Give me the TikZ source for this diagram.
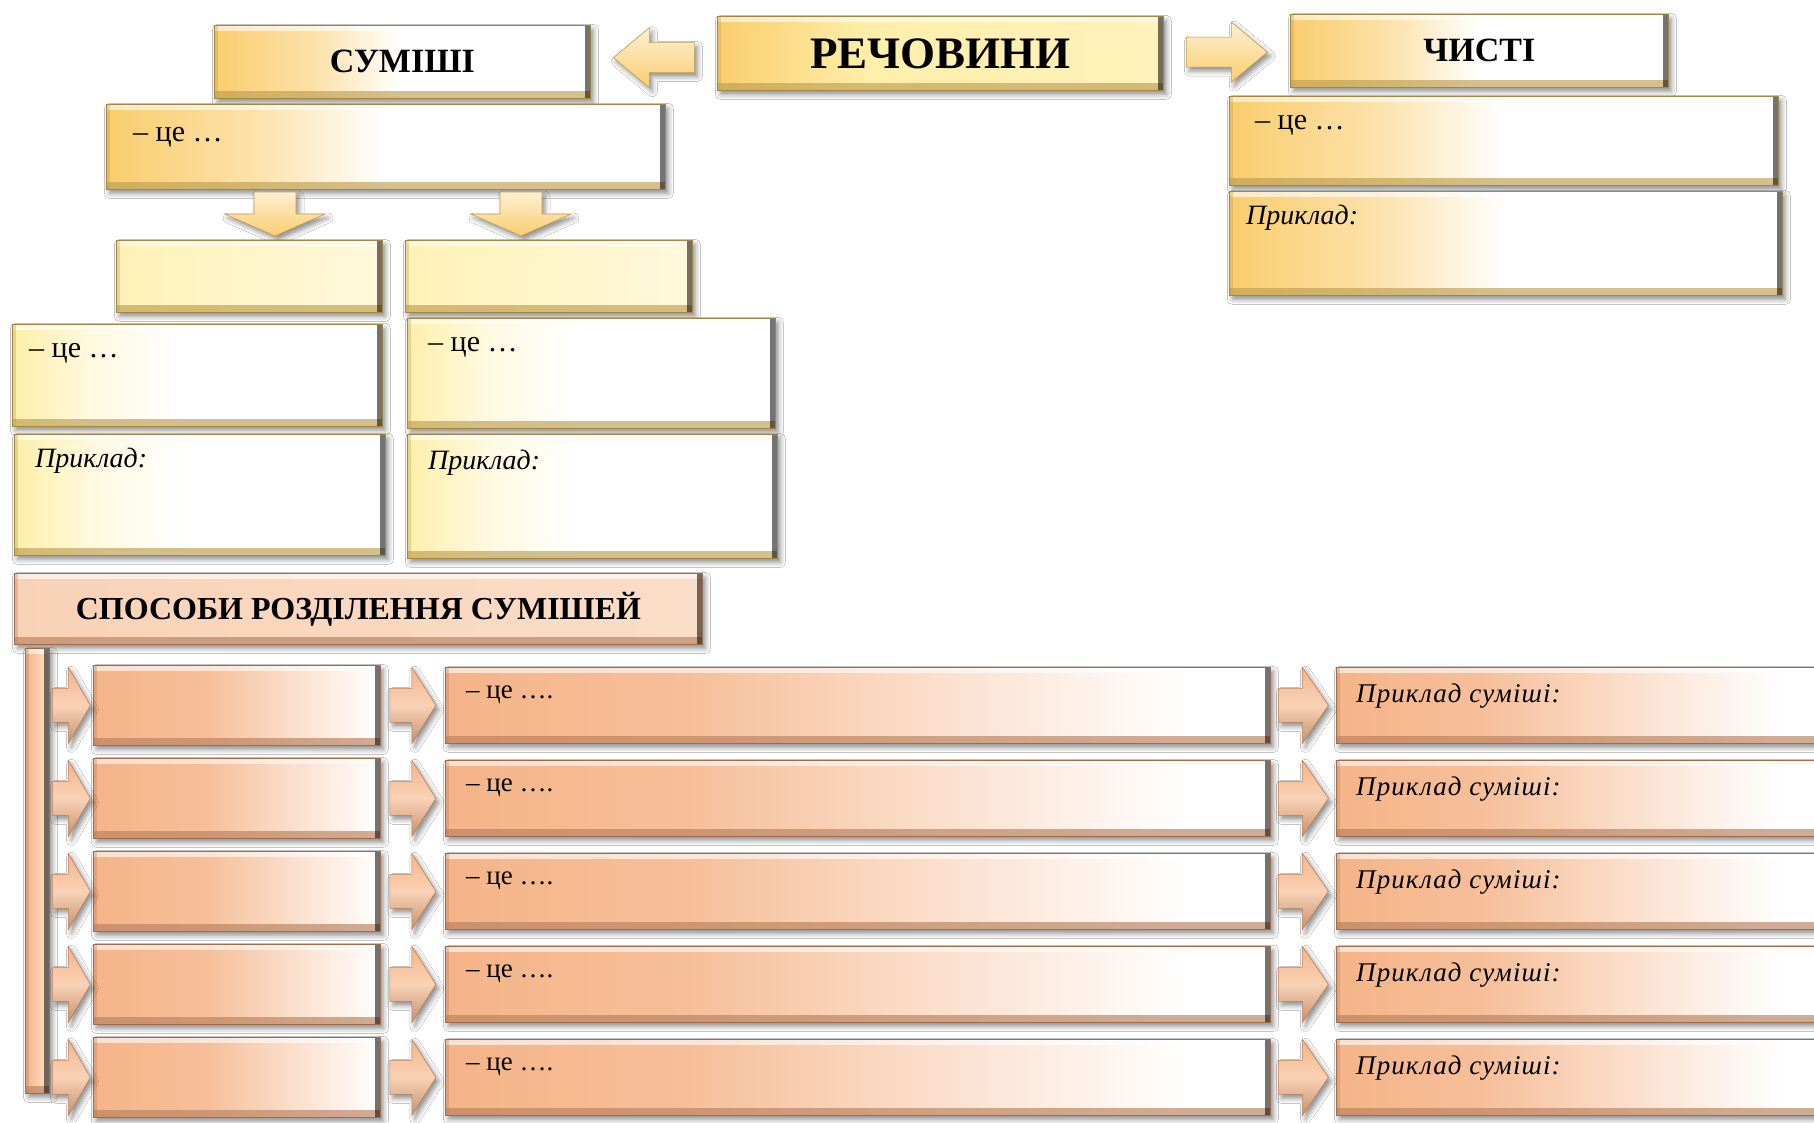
\documentclass[tikz,border=0pt]{standalone}
\usepackage{fontspec}
\setmainfont{Liberation Serif}
\usetikzlibrary{shadows.blur,calc}
\definecolor{gold}{RGB}{250,205,110}
\definecolor{goldd}{RGB}{190,158,80}
\definecolor{pale}{RGB}{255,239,170}
\definecolor{peach}{RGB}{245,180,136}
\definecolor{peachd}{RGB}{185,128,92}
\definecolor{peachl}{RGB}{249,210,182}
\pgfdeclarehorizontalshading{goldsh}{100bp}{color(0bp)=(gold); color(25bp)=(gold); color(38bp)=(gold!60!white); color(50bp)=(white); color(100bp)=(white)}
\pgfdeclarehorizontalshading{rechsh}{100bp}{color(0bp)=(gold); color(25bp)=(gold); color(42bp)=(pale); color(75bp)=(pale!80!white); color(100bp)=(pale!80!white)}
\pgfdeclarehorizontalshading{palesh}{100bp}{color(0bp)=(pale!85!white); color(25bp)=(pale!85!white); color(75bp)=(pale!40!white); color(100bp)=(pale!40!white)}
\pgfdeclarehorizontalshading{pale2sh}{100bp}{color(0bp)=(pale); color(25bp)=(pale); color(36bp)=(pale!35!white); color(48bp)=(white); color(100bp)=(white)}
\pgfdeclarehorizontalshading{peach1sh}{100bp}{color(0bp)=(peach); color(25bp)=(peach); color(45bp)=(peach!85!white); color(75bp)=(white); color(100bp)=(white)}
\pgfdeclarehorizontalshading{peach2sh}{100bp}{color(0bp)=(peach); color(25bp)=(peach); color(40bp)=(peach!85!white); color(70bp)=(white); color(100bp)=(white)}
\pgfdeclarehorizontalshading{spsh}{100bp}{color(0bp)=(peachl); color(25bp)=(peachl); color(75bp)=(peachl!75!white); color(100bp)=(peachl!75!white)}
\pgfdeclarehorizontalshading{barsh}{100bp}{color(0bp)=(peach); color(25bp)=(peach); color(75bp)=(peachl!60!white); color(100bp)=(peachl!60!white)}
\tikzset{
  bev/.style={path picture={
    \fill[white,opacity=.6] (path picture bounding box.north west) rectangle ([yshift=-6pt]path picture bounding box.north east);
    \fill[#1,opacity=.65] ([yshift=7pt]path picture bounding box.south west) rectangle (path picture bounding box.south east);
    \fill[black,opacity=.55] ([xshift=-5pt]path picture bounding box.north east) rectangle (path picture bounding box.south east);
    \fill[#1,opacity=.35] (path picture bounding box.north west) rectangle ([xshift=4pt]path picture bounding box.south west);
  }},
  shd/.style={blur shadow={shadow xshift=3pt, shadow yshift=-4pt, shadow blur radius=5pt, shadow opacity=45}},
  bx/.style 2 args={rectangle, anchor=north west, inner sep=0pt, shade, shading=#1, draw=#2!85!black, line width=0.8pt, bev=#2, shd},
  gbox/.style={bx={goldsh}{goldd}},
  rbox/.style={bx={rechsh}{goldd}},
  pbox1/.style={bx={palesh}{goldd}},
  pbox2/.style={bx={pale2sh}{goldd}},
  c1box/.style={bx={peach1sh}{peachd}},
  c2box/.style={bx={peach2sh}{peachd}},
  spbox/.style={bx={spsh}{peachd}},
  barbox/.style={bx={barsh}{peachd}},
  garr/.style={draw=goldd, line width=.6pt, top color=gold!30!white, bottom color=gold, shd},
  parr/.style={draw=peachd, line width=.6pt, top color=peach, bottom color=peach!80!black, middle color=peachl, shd},
  % block arrow: length, head length, head width, shaft width, style
  pics/barr/.style n args={5}{code={
    \path[#5] ({-#1/2},{-#4/2}) -- ({#1/2-#2},{-#4/2}) -- ({#1/2-#2},{-#3/2}) -- ({#1/2},0)
      -- ({#1/2-#2},{#3/2}) -- ({#1/2-#2},{#4/2}) -- ({-#1/2},{#4/2}) -- cycle;
  }},
  ttl/.style={font=\fontsize{34}{40}\selectfont\bfseries},
  cetxt/.style={anchor=west, inner sep=0pt, font=\fontsize{30}{36}\selectfont},
  prtxt/.style={anchor=west, inner sep=0pt, font=\fontsize{28}{34}\selectfont\itshape},
  ce2txt/.style={anchor=west, inner sep=0pt, font=\fontsize{27}{32}\selectfont},
  pr2txt/.style={anchor=west, inner sep=0pt, font=\fontsize{27}{32}\selectfont\itshape\addfontfeature{LetterSpace=4}},
}
\begin{document}
\begin{tikzpicture}[x=1pt,y=-1pt]
\useasboundingbox (0,0) rectangle (1814,1123);
\fill[white] (0,0) rectangle (1814,1123);
% top row
\node[gbox, minimum width=376, minimum height=73, ttl] (sum) at (214,25) {СУМІШІ};
\node[rbox, minimum width=446, minimum height=74, font=\fontsize{45}{54}\selectfont\bfseries] (rech) at (717,16) {РЕЧОВИНИ};
\node[gbox, minimum width=378, minimum height=73, ttl] (chys) at (1290,14) {ЧИСТІ};
\pic[rotate=180] (aL) at ($(sum.east)!0.5!(rech.west)$) {barr={81}{36}{60}{30}{garr}};
\pic (aR) at ($(rech.east)!0.5!(chys.west)$) {barr={81}{36}{60}{30}{garr}};
% definitions
\node[gbox, minimum width=559, minimum height=85] (sdef) at (106,104) {};
\node[cetxt] (sdeft) at ($(sdef.north west)+(27,33)$) {– це …};
\node[gbox, minimum width=549, minimum height=89] (cdef) at (1229,96) {};
\node[cetxt] (cdeft) at ($(cdef.north west)+(26,29)$) {– це …};
\node[gbox, minimum width=553, minimum height=104] (cpr) at (1229,191) {};
\node[prtxt] (cprt) at ($(cpr.north west)+(17,27)$) {Приклад:};
% down arrows
\coordinate (dAc) at (275,214);
\coordinate (dBc) at (521,214);
\pic[rotate=-90] (dA) at (dAc) {barr={44}{22}{100}{42}{garr}};
\pic[rotate=-90] (dB) at (dBc) {barr={44}{22}{100}{42}{garr}};
% two kinds
\node[pbox1, minimum width=266, minimum height=72] (b1) at (116,240) {};
\node[pbox1, minimum width=287, minimum height=72] (b2) at (405,240) {};
\node[pbox2, minimum width=370, minimum height=102] (def1) at (12,324) {};
\node[cetxt] (def1t) at ($(def1.north west)+(17,29)$) {– це …};
\node[pbox2, minimum width=368, minimum height=110] (def2) at (407,318) {};
\node[cetxt] (def2t) at ($(def2.north west)+(21,29)$) {– це …};
\node[pbox2, minimum width=371, minimum height=121] (pr1) at (14,434) {};
\node[prtxt] (pr1t) at ($(pr1.north west)+(21,27)$) {Приклад:};
\node[pbox2, minimum width=370, minimum height=124] (pr2) at (407,434) {};
\node[prtxt] (pr2t) at ($(pr2.north west)+(21,29)$) {Приклад:};
% separation methods
\node[spbox, minimum width=688, minimum height=71, font=\fontsize{32}{38}\selectfont\bfseries] (sp) at (14,573) {СПОСОБИ РОЗДІЛЕННЯ СУМІШЕЙ};
\node[barbox, minimum width=24, minimum height=445] (bar) at (25,648) {};
\foreach \i in {0,...,4}{
  \pgfmathsetmacro\ty{667+93*\i}
  \node[c1box, minimum width=287, minimum height=80] (meth\i) at (93,\ty-2) {};
  \node[c2box, minimum width=825, minimum height=76] (desc\i) at (445,\ty) {};
  \node[c2box, minimum width=494, minimum height=76] (ex\i) at (1336,\ty) {};
  \node[ce2txt] (desct\i) at ($(desc\i.north west)+(21,28)$) {– це ….};
  \node[pr2txt] (ext\i) at ($(ex\i.north west)+(20,29)$) {Приклад суміші:};
  \pic (a\i) at ($(bar.east |- meth\i.west)!0.5!(meth\i.west)$) {barr={38}{22}{76}{34}{parr}};
  \pic (b\i) at ($(meth\i.east)!0.5!(desc\i.west)$) {barr={46}{24}{76}{34}{parr}};
  \pic (c\i) at ($(desc\i.east)!0.5!(ex\i.west)$) {barr={50}{26}{76}{34}{parr}};
}
\end{tikzpicture}
\end{document}
